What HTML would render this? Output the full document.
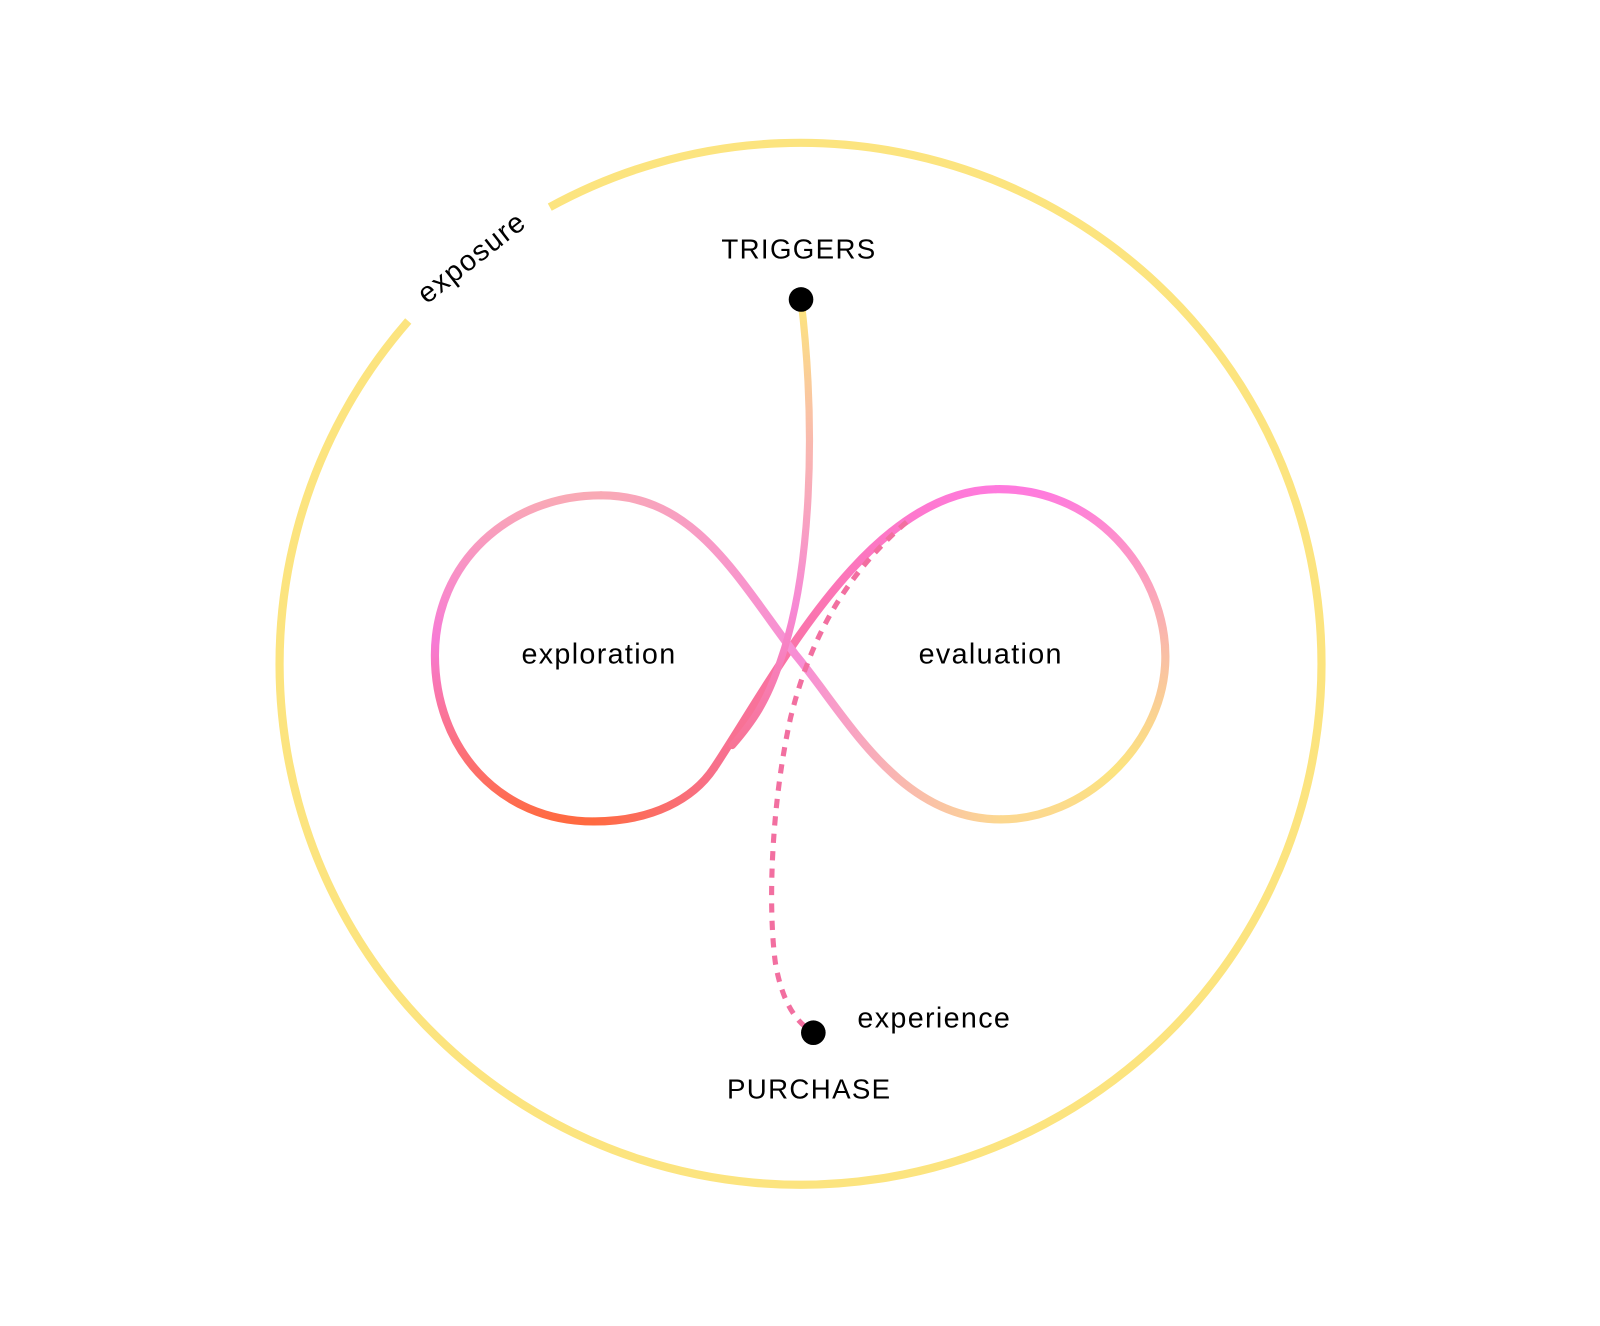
<!DOCTYPE html>
<html><head><meta charset="utf-8"><style>
html,body{margin:0;padding:0;background:#fff;}
svg{display:block;}
text{font-family:"Liberation Sans",sans-serif;fill:#000;letter-spacing:1.3px;}
</style></head><body>
<svg width="1600" height="1326" viewBox="4 1 1560 1293" xmlns="http://www.w3.org/2000/svg">
<defs>
<linearGradient id="g1" gradientUnits="userSpaceOnUse" x1="700" y1="750" x2="975" y2="478"><stop offset="0" stop-color="#f7708a"/><stop offset="1" stop-color="#ff7ade"/></linearGradient>
<linearGradient id="g2" gradientUnits="userSpaceOnUse" x1="0" y1="478" x2="0" y2="800"><stop offset="0" stop-color="#ff7ade"/><stop offset="0.5" stop-color="#f9bfa5"/><stop offset="0.85" stop-color="#fce47f"/><stop offset="1" stop-color="#fcd890"/></linearGradient>
<linearGradient id="g3" gradientUnits="userSpaceOnUse" x1="980" y1="0" x2="590" y2="0"><stop offset="0" stop-color="#fcd890"/><stop offset="0.25" stop-color="#f9b8b0"/><stop offset="0.5" stop-color="#f78ed5"/><stop offset="1" stop-color="#f9aab5"/></linearGradient>
<linearGradient id="g4" gradientUnits="userSpaceOnUse" x1="0" y1="484" x2="0" y2="802"><stop offset="0" stop-color="#f9aab5"/><stop offset="0.45" stop-color="#f77ad5"/><stop offset="1" stop-color="#ff6a40"/></linearGradient>
<linearGradient id="g5" gradientUnits="userSpaceOnUse" x1="583" y1="0" x2="700" y2="0"><stop offset="0" stop-color="#ff6a40"/><stop offset="1" stop-color="#f7708a"/></linearGradient>
<linearGradient id="gt" gradientUnits="userSpaceOnUse" x1="0" y1="300" x2="0" y2="752"><stop offset="0" stop-color="#fce47f"/><stop offset="0.3" stop-color="#f9b8b0"/><stop offset="0.65" stop-color="#f788d5"/><stop offset="1" stop-color="#f7708a"/></linearGradient>
</defs>
<path d="M 540 203 A 508 508 0 1 1 402 314" fill="none" stroke="#fce47f" stroke-width="8"/>
<text x="0" y="0" font-size="28" transform="translate(420 298) rotate(-38)">exposure</text>
<g fill="none" stroke-width="8" stroke-linecap="round">
<path d="M 700 750 C 760 660, 850 480, 975 478" stroke="url(#g1)"/>
<path d="M 975 478 C 1080 476, 1145 570, 1140 650 C 1135 730, 1060 800, 980 800" stroke="url(#g2)"/>
<path d="M 980 800 C 880 800, 830 700, 780 640 C 720 560, 680 484, 590 484" stroke="url(#g3)"/>
<path d="M 590 484 C 500 484, 428 550, 428 640 C 428 730, 490 802, 583 802" stroke="url(#g4)"/>
<path d="M 583 802 C 640 802, 680 780, 700 750" stroke="url(#g5)"/>
<path d="M 785 293 C 800 420, 795 560, 765 645 C 752 685, 738 705, 718 728" stroke="url(#gt)" stroke-width="7"/>
<path d="M 888 510 C 830 560, 795 620, 775 700 C 757 780, 752 880, 760 940 C 766 975, 778 995, 793 1005" stroke="#f26fa0" stroke-width="5" stroke-dasharray="9 8" stroke-linecap="butt"/>
</g>
<circle cx="785" cy="293" r="12" fill="#000"/>
<circle cx="797" cy="1008" r="12" fill="#000"/>
<text x="783" y="253" font-size="27" text-anchor="middle">TRIGGERS</text>
<text x="793" y="1072" font-size="27" text-anchor="middle">PURCHASE</text>
<text x="840" y="1003" font-size="28">experience</text>
<text x="588" y="648" font-size="28" text-anchor="middle">exploration</text>
<text x="970" y="648" font-size="28" text-anchor="middle">evaluation</text>
</svg>
</body></html>
